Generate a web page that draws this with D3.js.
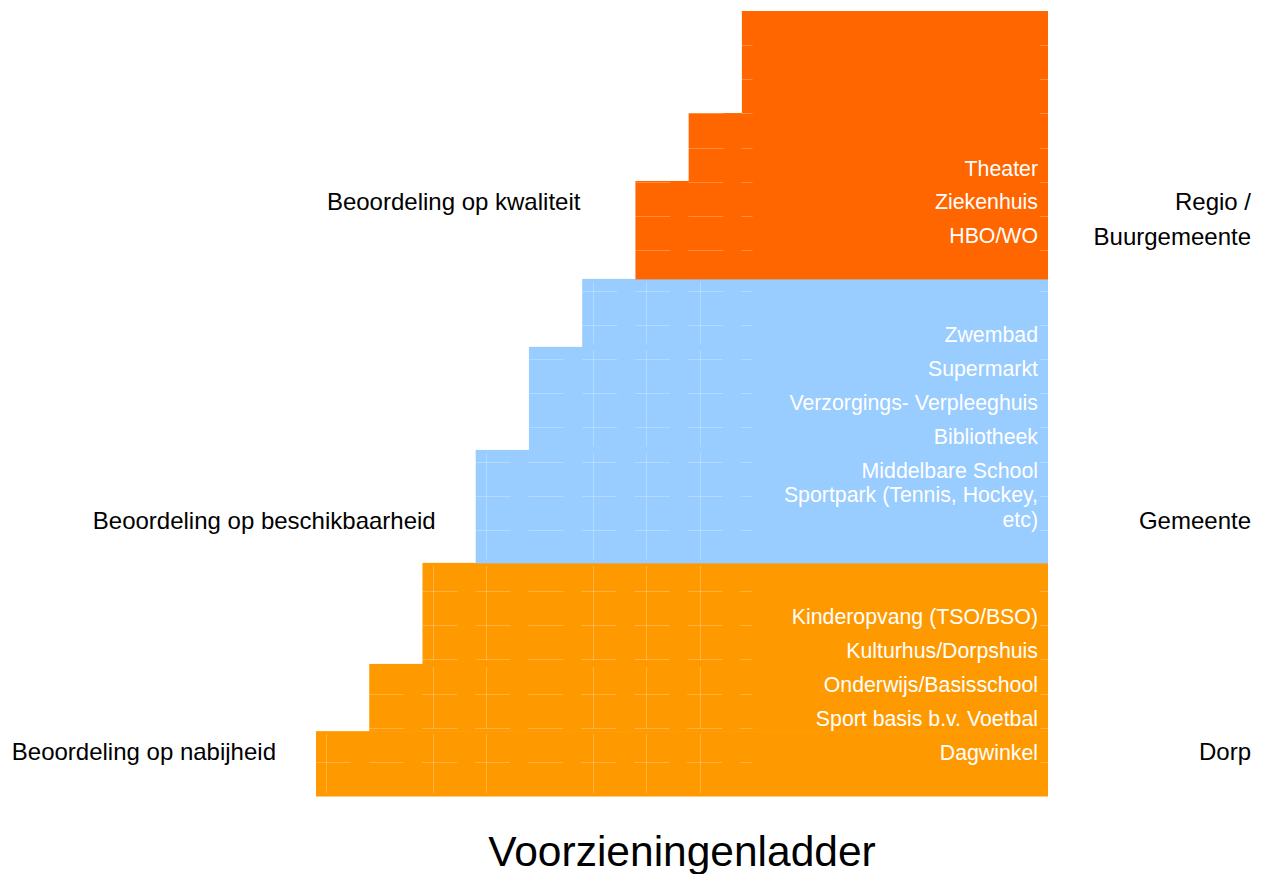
<!DOCTYPE html>
<html>
<head>
<meta charset="utf-8">
<script src="https://cdn.jsdelivr.net/npm/d3@7"></script>
<style>
  body { margin: 0; background: #fff; }
  text { font-family: "Liberation Sans", Arial, sans-serif; }
</style>
</head>
<body>
<div id="chart"></div>
<script>
// ladder steps, bottom to top (column where step starts, row range in row units)
var stepStart = [0, 1, 2, 3, 4, 5, 6, 7, 8];
var stepBottom = [0, 1.9, 3.87, 6.83, 10.14, 13.16, 15.15, 18.02, 20.01];
var stepTop = [1.9, 3.87, 6.83, 10.14, 13.16, 15.15, 18.02, 20.01, 23];
var stepLevel = [0, 0, 0, 1, 1, 1, 2, 2, 2];
var ladderEnd = 13.75;

var levelNames = [["Dorp"], ["Gemeente"], ["Regio /", "Buurgemeente"]];
var levelCriteria = ["Beoordeling op nabijheid", "Beoordeling op beschikbaarheid", "Beoordeling op kwaliteit"];
var levelRow = [1.3, 8.05, 17.4];
var levelColors = ["#FF9900", "#99CCFF", "#FF6600"];

// facilities and the row they sit on
var facilities = [
    ["Dagwinkel"], ["Sport basis b.v. Voetbal"], ["Onderwijs/Basisschool"],
    ["Kulturhus/Dorpshuis"], ["Kinderopvang (TSO/BSO)"],
    ["Sportpark (Tennis, Hockey,", "etc)"], ["Middelbare School"], ["Bibliotheek"],
    ["Verzorgings- Verpleeghuis"], ["Supermarkt"], ["Zwembad"],
    ["HBO/WO"], ["Ziekenhuis"], ["Theater"]
];
var facilityRow = [1.26, 2.26, 3.25, 4.25, 5.24, 8.44, 9.52, 10.52, 11.51, 12.51, 13.5, 16.4, 17.4, 18.37];

// seams between the bricks
var seamCols = [0.19, 2.2, 3.19, 5.2, 6.2, 7.21];
var seamRows = [1, 2, 3, 4, 5, 6, 7.8, 8.8, 9.8, 10.8, 11.8, 12.8, 13.8, 14.8, 16, 17, 18, 19, 20, 21, 22];

var svgWidth = 1265, svgHeight = 874;
var margin = { top: 11, right: 217, bottom: 78, left: 316 };
var chartWidth = svgWidth - margin.left - margin.right;
var chartHeight = svgHeight - margin.top - margin.bottom;

var svg = d3.select("#chart").append("svg")
    .attr("width", svgWidth)
    .attr("height", svgHeight);

var chartGroup = svg.append("g")
    .attr("transform", `translate(${margin.left}, ${margin.top})`);

var xScale = d3.scaleLinear().domain([0, ladderEnd]).range([0, chartWidth]);
var yScale = d3.scaleLinear().domain([0, 23]).range([chartHeight, 0]);

var steps = stepStart.map(function(s, i) {
    return { start: s, bottom: stepBottom[i], top: stepTop[i], level: stepLevel[i] };
});

// steps
chartGroup.selectAll("rect.step")
    .data(steps)
    .enter()
    .append("rect")
    .attr("class", "step")
    .attr("x", d => xScale(d.start))
    .attr("y", d => yScale(d.top))
    .attr("width", d => xScale(ladderEnd) - xScale(d.start))
    .attr("height", d => yScale(d.bottom) - yScale(d.top) + 0.5)
    .attr("fill", d => levelColors[d.level]);

// faint seams
function stepAt(row) {
    return steps.find(s => row >= s.bottom && row < s.top) || steps[steps.length - 1];
}

var seams = chartGroup.append("g")
    .attr("stroke", "#fff")
    .attr("stroke-opacity", 0.25)
    .attr("stroke-width", 1);

seamRows.forEach(function(r) {
    var s = stepAt(r);
    var x0 = xScale(s.start);
    seams.append("line")
        .attr("x1", x0)
        .attr("x2", xScale(8.2))
        .attr("y1", Math.round(yScale(r)) + 0.5)
        .attr("y2", Math.round(yScale(r)) + 0.5)
        .attr("stroke-dasharray", "35,18");
    seams.append("line")
        .attr("x1", xScale(ladderEnd) - 8)
        .attr("x2", xScale(ladderEnd))
        .attr("y1", Math.round(yScale(r)) + 0.5)
        .attr("y2", Math.round(yScale(r)) + 0.5);
});

steps.filter(s => s.level < 2).forEach(function(s) {
    seamCols.filter(c => c > s.start).forEach(function(c) {
        seams.append("line")
            .attr("x1", Math.round(xScale(c)) + 0.5)
            .attr("x2", Math.round(xScale(c)) + 0.5)
            .attr("y1", yScale(s.top) + 3)
            .attr("y2", yScale(s.bottom) - 3);
    });
});

// facility labels inside the ladder
facilities.forEach(function(lines, i) {
    var t = chartGroup.append("text")
        .attr("x", xScale(ladderEnd) - 10)
        .attr("y", yScale(facilityRow[i]) + 7 - (lines.length - 1) * 12.5)
        .attr("text-anchor", "end")
        .attr("font-size", "21.3px")
        .attr("fill", "#fff");
    lines.forEach(function(l, j) {
        t.append("tspan")
            .attr("x", xScale(ladderEnd) - 10)
            .attr("dy", j === 0 ? 0 : 25)
            .text(l);
    });
});

// criteria on the left
levelCriteria.forEach(function(c, i) {
    var s = steps.filter(d => d.level === i)[0];
    chartGroup.append("text")
        .attr("x", xScale(s.start) - (i === 2 ? 55 : 40))
        .attr("y", yScale(levelRow[i]) + 8)
        .attr("text-anchor", "end")
        .attr("font-size", "24px")
        .attr("fill", "#000")
        .text(c);
});

// level names on the right
levelNames.forEach(function(lines, i) {
    var t = svg.append("text")
        .attr("text-anchor", "end")
        .attr("font-size", "24px")
        .attr("fill", "#000");
    lines.forEach(function(l, j) {
        t.append("tspan")
            .attr("x", 1251)
            .attr("y", margin.top + yScale(levelRow[i]) + 8 + j * 35)
            .text(l);
    });
});

// title
svg.append("text")
    .attr("x", 682)
    .attr("y", 866)
    .attr("text-anchor", "middle")
    .attr("font-size", "42.5px")
    .attr("fill", "#000")
    .text("Voorzieningenladder");
</script>
</body>
</html>
